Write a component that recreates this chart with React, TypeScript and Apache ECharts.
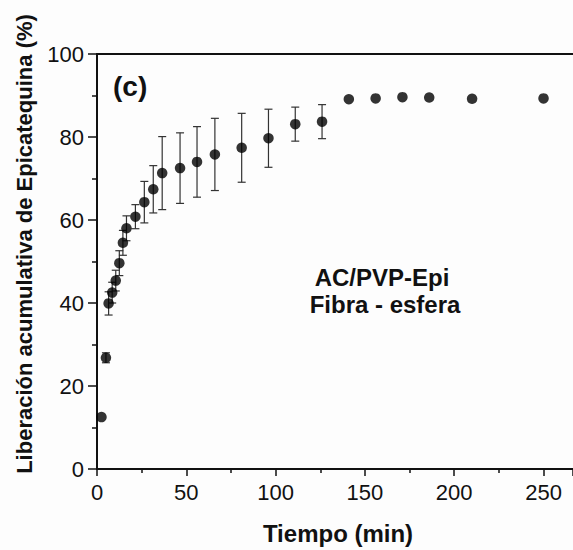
import React, { useEffect, useRef } from "react";
import * as echarts from "echarts";

// Release time (min)
const tiempo = [2.5, 5, 6.5, 8.5, 10.5, 12.5, 14.5, 16.5, 21.5, 26.5, 31.5, 36.5, 46.5, 56, 66, 81, 96, 111, 126, 141, 156, 171, 186, 210, 250];
// Cumulative epicatechin release (%)
const liberacion = [12.5, 26.8, 39.9, 42.5, 45.4, 49.6, 54.5, 58.0, 60.8, 64.3, 67.4, 71.3, 72.5, 74.0, 75.8, 77.4, 79.7, 83.1, 83.7, 89.1, 89.3, 89.6, 89.5, 89.2, 89.3];
// Standard deviation (%)
const desviacion = [0, 1.2, 2.8, 2.5, 2.5, 3.0, 3.0, 3.0, 2.9, 5.0, 5.7, 8.8, 8.5, 8.5, 8.7, 8.3, 7.0, 4.1, 4.1, 0, 0, 0, 0, 0, 0];

const xTicks = [0, 50, 100, 150, 200, 250];
const yTicks = [0, 20, 40, 60, 80, 100];

const FONT = "'Liberation Sans', Arial, Helvetica, sans-serif";

export default function App() {
  const ref = useRef<HTMLDivElement>(null);

  useEffect(() => {
    if (!ref.current) return;
    const chart = echarts.init(ref.current, null, { renderer: "svg" });

    const points = tiempo.map((t, i) => [t, liberacion[i]]);
    const bars = tiempo.map((t, i) => [t, liberacion[i], desviacion[i]]);

    const axisLine = { show: true, lineStyle: { color: "#111", width: 2 } };

    chart.setOption({
      animation: false,
      backgroundColor: "#fdfdfd",
      grid: { left: 97, right: 0, top: 54, bottom: 81 },
      xAxis: [
        {
          type: "value",
          min: 0,
          max: 266.5,
          interval: 50,
          axisLine: { ...axisLine, onZero: false },
          axisTick: { show: true, inside: false, length: 7, lineStyle: { color: "#111", width: 1.5 } },
          minorTick: { show: true, splitNumber: 2, length: 4, lineStyle: { color: "#111", width: 1.5 } },
          splitLine: { show: false },
          axisLabel: {
            showMaxLabel: false,
            margin: 12,
            fontSize: 22,
            fontFamily: FONT,
            color: "#111",
            formatter: (v: number) => (xTicks.includes(v) ? String(v) : ""),
          },
        },
        {
          type: "value",
          position: "top",
          min: 0,
          max: 266.5,
          axisLine: { ...axisLine, onZero: false },
          axisTick: { show: false },
          axisLabel: { show: false },
          splitLine: { show: false },
        },
      ],
      yAxis: {
        type: "value",
        min: 0,
        max: 100,
        interval: 20,
        axisLine: { ...axisLine, onZero: false },
        axisTick: { show: true, inside: false, length: 9, lineStyle: { color: "#111", width: 1.5 } },
        minorTick: { show: true, splitNumber: 2, length: 5, lineStyle: { color: "#111", width: 1.5 } },
        splitLine: { show: false },
        axisLabel: {
          margin: 13,
          fontSize: 22,
          fontFamily: FONT,
          color: "#111",
          formatter: (v: number) => (yTicks.includes(v) ? String(v) : ""),
        },
      },
      series: [
        {
          type: "custom",
          xAxisIndex: 0,
          data: bars,
          z: 1,
          renderItem: (params: any, api: any) => {
            const x = api.value(0);
            const y = api.value(1);
            const e = api.value(2);
            if (!e) return null;
            const hi = api.coord([x, y + e]);
            const lo = api.coord([x, y - e]);
            const cap = 4;
            const style = { stroke: "#333", lineWidth: 1.2 };
            return {
              type: "group",
              children: [
                { type: "line", shape: { x1: hi[0], y1: hi[1], x2: lo[0], y2: lo[1] }, style },
                { type: "line", shape: { x1: hi[0] - cap, y1: hi[1], x2: hi[0] + cap, y2: hi[1] }, style },
                { type: "line", shape: { x1: lo[0] - cap, y1: lo[1], x2: lo[0] + cap, y2: lo[1] }, style },
              ],
            };
          },
        },
        {
          type: "scatter",
          xAxisIndex: 0,
          data: points,
          symbol: "circle",
          symbolSize: 10.5,
          z: 2,
          itemStyle: { color: "#000" },
        },
      ],
      graphic: [
        {
          type: "text",
          x: 24,
          y: 244,
          rotation: Math.PI / 2,
          style: {
            text: "Liberación acumulativa de Epicatequina (%)",
            font: `bold 22px ${FONT}`,
            fill: "#111",
            align: "center",
            verticalAlign: "middle",
          },
        },
        {
          type: "text",
          x: 338,
          y: 533,
          style: {
            text: "Tiempo (min)",
            font: `bold 24px ${FONT}`,
            fill: "#111",
            align: "center",
            verticalAlign: "middle",
          },
        },
        {
          type: "text",
          x: 113,
          y: 86,
          style: {
            text: "(c)",
            font: `bold 28px ${FONT}`,
            fill: "#111",
            align: "left",
            verticalAlign: "middle",
          },
        },
        {
          type: "text",
          x: 382,
          y: 277,
          style: {
            text: "AC/PVP-Epi",
            font: `bold 24px ${FONT}`,
            fill: "#111",
            align: "center",
            verticalAlign: "middle",
          },
        },
        {
          type: "text",
          x: 385,
          y: 304,
          style: {
            text: "Fibra - esfera",
            font: `bold 24px ${FONT}`,
            fill: "#111",
            align: "center",
            verticalAlign: "middle",
          },
        },
      ],
    });

    return () => chart.dispose();
  }, []);

  return (
    <div
      ref={ref}
      style={{ position: "fixed", left: 0, top: 0, width: 573, height: 550 }}
    />
  );
}
